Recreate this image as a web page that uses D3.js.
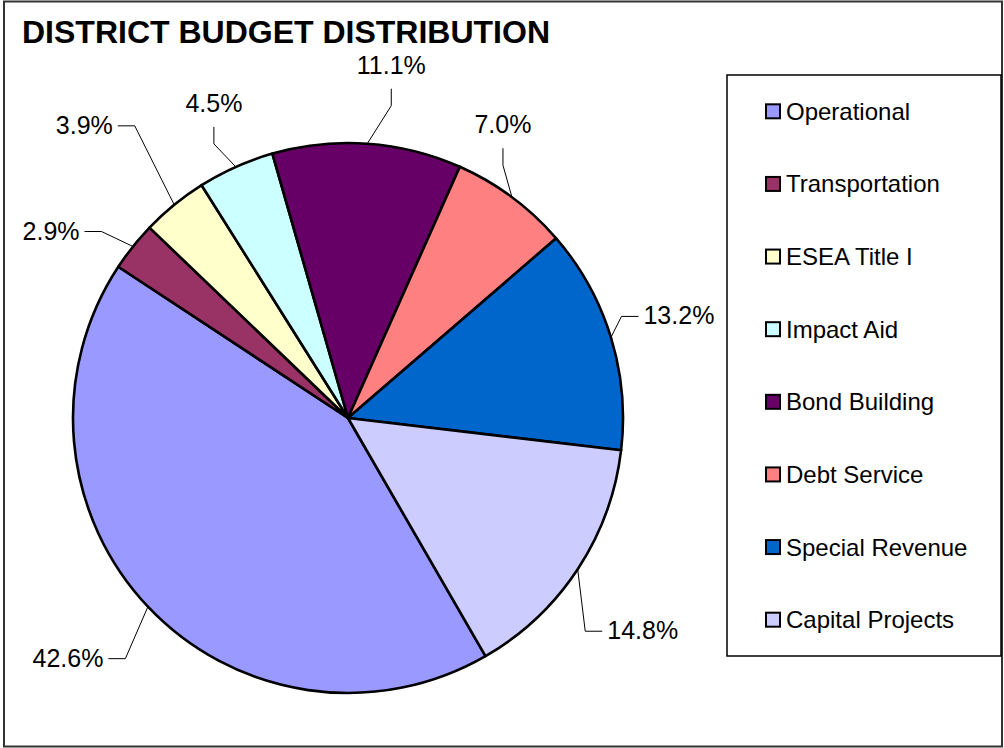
<!DOCTYPE html>
<html>
<head>
<meta charset="utf-8">
<script src="https://cdn.jsdelivr.net/npm/d3@7"></script>
<style>
  html, body { margin: 0; padding: 0; background: #fff; }
  svg { display: block; font-family: "Liberation Sans", Arial, sans-serif; }
</style>
</head>
<body>
<div id="chart"></div>
<script>
// data
var categories = ['Operational', 'Transportation', 'ESEA Title I', 'Impact Aid',
  'Bond Building', 'Debt Service', 'Special Revenue', 'Capital Projects'];
var shares = [42.6, 2.9, 3.9, 4.5, 11.1, 7.0, 13.2, 14.8];
var colors = ['#9999FF', '#993366', '#FFFFCC', '#CCFFFF',
  '#660066', '#FF8080', '#0066CC', '#CCCCFF'];

// label placement (offset of each label centre from its slice edge point)
var labelNudge = [[-80, 51], [-82, -16], [-90, -80], [-22, -64],
  [24, -79], [-9, -73], [68, -22], [65, 61]];

var W = 1004, H = 748;
var cx = 348, cy = 418, r = 275;
var firstAngle = 150 * Math.PI / 180;

var svg = d3.select('#chart').append('svg')
  .attr('width', W).attr('height', H);

// chart frame
svg.append('rect')
  .attr('x', 4).attr('y', 1.5).attr('width', 998).attr('height', 745)
  .attr('fill', '#fff').attr('stroke', '#333').attr('stroke-width', 2);

svg.append('text')
  .attr('x', 22).attr('y', 43)
  .attr('font-size', 32).attr('font-weight', 'bold')
  .text('DISTRICT BUDGET DISTRIBUTION');

var pie = d3.pie().sort(null).value(function (d) { return d; })
  .startAngle(firstAngle).endAngle(firstAngle + 2 * Math.PI);
var arcs = pie(shares);
var arc = d3.arc().innerRadius(0).outerRadius(r);

var g = svg.append('g').attr('transform', 'translate(' + cx + ',' + cy + ')');

g.selectAll('path.slice')
  .data(arcs)
  .enter()
  .append('path')
  .attr('class', 'slice')
  .attr('d', arc)
  .attr('fill', function (d, i) { return colors[i]; })
  .attr('stroke', '#000')
  .attr('stroke-width', 2.6)
  .attr('stroke-linejoin', 'round');

// labels + leader lines
var fmt = d3.format('.1f');
arcs.forEach(function (d, i) {
  var mid = (d.startAngle + d.endAngle) / 2;
  var ex = r * Math.sin(mid), ey = -r * Math.cos(mid);
  var lx = ex + labelNudge[i][0], ly = ey + labelNudge[i][1];

  var t = g.append('text')
    .attr('x', lx).attr('y', ly + 9)
    .attr('text-anchor', 'middle')
    .attr('font-size', 25)
    .text(fmt(d.value) + '%');
  var hw = t.node().getComputedTextLength() / 2;

  var pts;
  var dx = lx - ex, dy = ly - ey;
  if (Math.abs(dx) >= Math.abs(dy)) {
    var side = dx < 0 ? 1 : -1;
    var sx = lx + side * (hw + 5);
    pts = [[sx, ly + 1], [sx + side * 17, ly + 1], [ex, ey]];
  } else {
    var by = ly + 9 + 15;
    pts = [[lx, by], [lx, by + 17], [ex, ey]];
  }
  g.append('path')
    .attr('d', d3.line()(pts))
    .attr('fill', 'none')
    .attr('stroke', '#000')
    .attr('stroke-width', 1);
});

// legend
var legend = svg.append('g');
legend.append('rect')
  .attr('x', 727).attr('y', 75).attr('width', 274).attr('height', 581)
  .attr('fill', '#fff').attr('stroke', '#000').attr('stroke-width', 1.5);

var ly = d3.scaleBand().domain(categories).range([75, 656]);

var items = legend.selectAll('g.item')
  .data(categories)
  .enter()
  .append('g')
  .attr('class', 'item')
  .attr('transform', function (d) {
    return 'translate(0,' + (ly(d) + ly.bandwidth() / 2) + ')';
  });

items.append('rect')
  .attr('x', 766).attr('y', -7).attr('width', 14).attr('height', 14)
  .attr('fill', function (d, i) { return colors[i]; })
  .attr('stroke', '#000').attr('stroke-width', 2);

items.append('text')
  .attr('x', 786).attr('y', 8.5)
  .attr('font-size', 24)
  .text(function (d) { return d; });
</script>
</body>
</html>
